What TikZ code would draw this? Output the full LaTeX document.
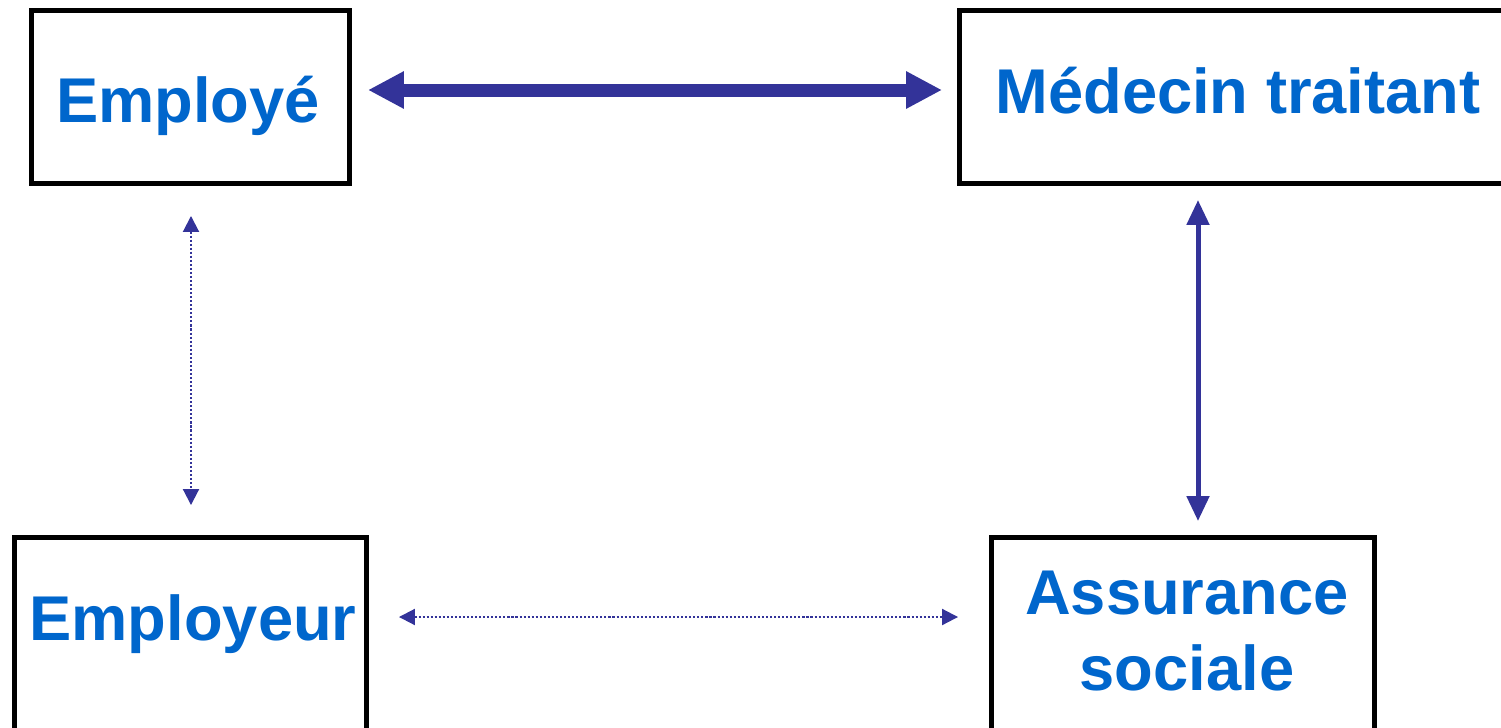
\documentclass[tikz,border=0pt]{standalone}
\usepackage{fontspec}
\setmainfont{Liberation Sans}
\usetikzlibrary{arrows.meta}
\definecolor{arrowblue}{HTML}{333399}
\definecolor{textblue}{HTML}{0066CC}

\begin{document}
\begin{tikzpicture}[x=0.02cm,y=-0.02cm,
	box/.style={draw=black,line width=0.1cm,fill=white},
	lbl/.style={text=textblue,font=\fontsize{36}{43}\selectfont\bfseries,inner sep=0pt},
	fatarrow/.style={draw=arrowblue,line width=0.26cm,{Triangle[length=0.72cm,width=0.7cm]}-{Triangle[length=0.72cm,width=0.7cm]}},
	midarrow/.style={draw=arrowblue,line width=0.1cm,{Triangle[length=0.5cm,width=0.44cm]}-{Triangle[length=0.5cm,width=0.44cm]}},
	dotarrow/.style={draw=arrowblue,line width=0.04cm,dash pattern=on 1.2pt off 1.1pt,{Triangle[length=0.32cm,width=0.32cm]}-{Triangle[length=0.32cm,width=0.32cm]}}]
			\useasboundingbox (0,0) rectangle (1501,727);
			\clip (0,0) rectangle (1501,727);
				\node[box,minimum width=6.36cm,minimum height=3.46cm] (employe) at (190.5,97) {};
				\node[box,minimum width=11.21cm,minimum height=3.46cm] (medecin) at (1239.75,97) {};
				\node[box,minimum width=7.04cm,minimum height=4.86cm] (employeur) at (190.5,658.5) {};
				\node[box,minimum width=7.67cm,minimum height=4.86cm] (assurance) at (1183.25,658.5) {};
				\node[lbl,anchor=base] (temploye) at (188,122) {Employé};
				\node[lbl,anchor=base] (tmedecin) at (1238,113) {Médecin traitant};
				\node[lbl,anchor=base] (temployeur) at (193,640) {Employeur};
				\node[lbl,anchor=base] (tassurance) at (1187,614) {Assurance};
				\node[lbl,anchor=base] (tsociale) at (1187,690) {sociale};
				\draw[fatarrow,shorten <=0.32cm,shorten >=0.3cm] (employe.east |- 0,90) -- (medecin.west |- 0,90);
				\draw[midarrow,shorten <=0.28cm,shorten >=0.27cm] (1198,0 |- medecin.south) -- (1198,0 |- assurance.north);
				\draw[dotarrow,shorten <=0.6cm,shorten >=0.59cm] (191,0 |- employe.south) -- (191,0 |- employeur.north);
				\draw[dotarrow,shorten <=0.6cm,shorten >=0.62cm] (employeur.east |- 0,617) -- (assurance.west |- 0,617);
			\end{tikzpicture}
\end{document}
